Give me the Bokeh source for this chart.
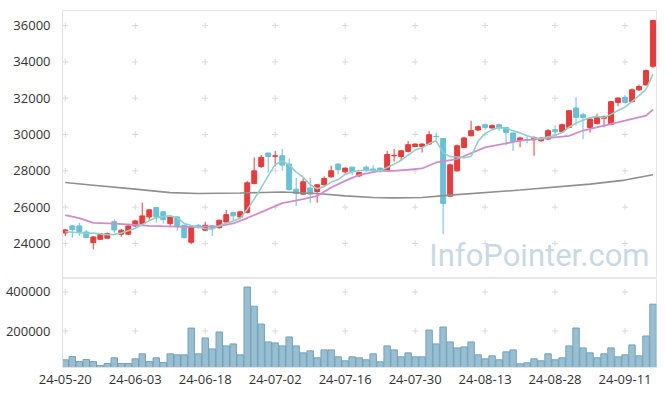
from bokeh.plotting import figure
from bokeh.layouts import column
from bokeh.models import Range1d, FixedTicker, PrintfTickFormatter, ColumnDataSource, Label
from bokeh.embed import file_html
from bokeh.resources import INLINE

dates = ["24-05-20","24-05-21","24-05-22","24-05-23","24-05-24","24-05-27","24-05-28","24-05-29","24-05-30","24-05-31",
         "24-06-03","24-06-04","24-06-05","24-06-07","24-06-10","24-06-11","24-06-12","24-06-13","24-06-14","24-06-17",
         "24-06-18","24-06-19","24-06-20","24-06-21","24-06-24","24-06-25","24-06-26","24-06-27","24-06-28","24-07-01",
         "24-07-02","24-07-03","24-07-04","24-07-05","24-07-08","24-07-09","24-07-10","24-07-11","24-07-12","24-07-15",
         "24-07-16","24-07-17","24-07-18","24-07-19","24-07-22","24-07-23","24-07-24","24-07-25","24-07-26","24-07-29",
         "24-07-30","24-07-31","24-08-01","24-08-02","24-08-05","24-08-06","24-08-07","24-08-08","24-08-09","24-08-12",
         "24-08-13","24-08-14","24-08-16","24-08-19","24-08-20","24-08-21","24-08-22","24-08-23","24-08-26","24-08-27",
         "24-08-28","24-08-29","24-08-30","24-09-02","24-09-03","24-09-04","24-09-05","24-09-06","24-09-09","24-09-10",
         "24-09-11","24-09-12","24-09-13","24-09-19","24-09-20"]

open_ = [24580,24966,24966,24635,24045,24230,24290,25200,24510,24510,
         24966,25090,25460,25976,25740,25090,25460,25000,24066,25000,
         24730,24966,24870,25180,25700,25460,25700,27300,28240,28980,
         28800,28830,28370,26990,26715,27050,26860,27230,27670,28370,
         27945,28200,27725,28200,28100,28150,28000,28830,28790,29070,
         29345,29345,29475,29900,29785,26600,28000,29290,29930,30250,
         30540,30360,30540,30390,30080,29660,29710,29710,29660,29750,
         30265,30150,30390,31460,31090,30390,30610,30890,30560,31770,
         32050,31810,32460,32730,33760]
close = [24745,24760,24650,24320,24360,24540,24540,24745,24730,24966,
         25240,25518,25850,25460,25310,25460,24966,24320,24910,24870,
         25000,24820,25280,25590,25520,25740,27340,28000,28740,28790,
         28830,28320,26970,26750,27395,26715,27230,27580,28000,28060,
         28150,27960,27910,28060,28000,28040,28900,28850,29100,29440,
         29475,29475,29990,29880,26200,28330,29380,29810,30210,30430,
         30390,30490,30390,30115,29620,29810,29700,29840,29810,30210,
         30150,30540,31310,30945,30945,30850,30945,30980,31810,32010,
         31770,32460,32640,33520,36280]
high = [24800,25020,25150,24745,24400,24560,24600,25335,24800,25020,
        25300,26250,25900,26000,25760,25550,25500,25050,24950,25080,
        25200,25000,25300,25850,25760,25780,27450,28736,28880,29000,
        29100,29200,28680,27600,27600,27600,27280,27700,28280,28400,
        28180,28230,27960,28300,28300,28170,29100,29200,29150,29650,
        29500,29500,30180,30100,29800,28400,29450,29870,30760,30500,
        30600,30560,30600,30420,30100,29880,29950,29900,29850,30300,
        30500,30600,31350,32050,31200,30900,31150,31050,31850,32050,
        32150,32550,32750,33580,36300]
low = [24414,24320,24414,24300,23680,24200,24250,24600,24370,24480,
       24900,25020,25300,25150,25100,24950,24700,24280,23960,24820,
       24680,24414,24820,25150,25250,25350,25650,27250,28150,27910,
       28240,28000,26900,26070,26700,26220,26250,27200,27620,27800,
       27850,27760,27650,27950,27880,27900,27950,28515,28560,29000,
       29300,29010,29440,29700,24507,26550,27950,29250,29900,30180,
       30250,30320,30200,29400,29100,29300,29500,28830,29600,29700,
       29900,30100,30350,30500,29750,30100,30550,30400,30500,31550,
       31700,31750,32400,32700,33650]
volume = [52400,69200,43800,54000,43800,23400,33600,62600,33600,33600,
          57500,83000,43800,62600,38700,83000,77900,77900,215000,83000,
          164400,108400,194900,123700,133800,77900,425400,327200,235600,144000,
          138900,123700,169500,123700,88000,98200,62600,103300,103300,67700,
          47300,67700,62600,52400,83000,42200,123700,103300,67700,88000,
          67700,67700,205100,133800,220400,144000,113500,118600,144000,77900,
          57500,72800,52400,93100,103300,32100,37200,57500,47300,83000,
          52400,62600,123700,215300,113500,88000,62600,83000,113500,67700,
          77900,128800,72800,174600,337400]
ma5 = [24650,24620,24590,24560,24570,24530,24480,24500,24580,24700,
       24840,25040,25260,25410,25480,25520,25410,25100,24990,24910,
       24810,24780,24980,25110,25240,25390,25890,26440,27070,27720,
       28340,28540,28330,27930,27650,27230,27010,27130,27380,27520,
       27800,27950,28020,28030,28020,27990,28180,28370,28580,28870,
       29150,29270,29500,29650,29000,28780,28760,28720,28790,29630,
       30050,30270,30380,30360,30200,30090,29930,29820,29760,29870,
       29940,30110,30400,30630,30780,30920,31000,30930,31110,31320,
       31510,31810,32140,32480,33330]
ma20_idx = [0, 2, 4, 7, 10, 12, 17, 19, 22, 24, 26, 29, 31, 34, 36, 38, 40, 42, 45, 47, 49, 51, 53, 56, 60, 65, 70, 72, 74, 77, 80, 83, 84]
ma20_val = [25560, 25400, 25130, 25090, 25020, 24970, 24910, 24910, 24950, 25100, 25400, 25890, 26220, 26440, 26620, 27080, 27450, 27780, 28000, 28000, 28060, 28130, 28460, 28650, 29290, 29660, 29840, 29930, 30220, 30490, 30760, 31040, 31370]
ma60_idx = [0, 4, 10, 15, 19, 25, 31, 36, 40, 44, 47, 51, 55, 65, 75, 80, 84]
ma60_val = [27360, 27210, 26990, 26800, 26750, 26780, 26830, 26750, 26620, 26530, 26510, 26530, 26660, 26940, 27270, 27490, 27780]

price_ticks = [24000, 26000, 28000, 30000, 32000, 34000, 36000]
vol_ticks = [200000, 400000]
x_ticks = [0, 10, 20, 30, 40, 50, 60, 70, 80]

UP = "#ec3939"
DOWN = "#67c1d8"
FONT = "Open Sans"

idx = list(range(len(close)))
colors = [UP if c >= o else DOWN for o, c in zip(open_, close)]
src = ColumnDataSource(dict(
    x=idx, o=open_, c=close, h=high, l=low,
    top=[max(o, c) for o, c in zip(open_, close)],
    bot=[min(o, c) for o, c in zip(open_, close)],
    col=colors, vol=volume, ma5=ma5))

xr = Range1d(-0.4, 84.5)

def style_yaxis(ax):
    ax.axis_line_color = "#e2e2e2"
    ax.major_tick_line_color = None
    ax.minor_tick_line_color = None
    ax.major_label_text_font = FONT
    ax.major_label_text_font_size = "13px"
    ax.major_label_text_color = "#333333"
    ax.major_label_standoff = 6
    ax.formatter = PrintfTickFormatter(format="%d")

p = figure(width=664, height=278, x_range=xr, y_range=Range1d(22070, 36830),
           output_backend="svg", toolbar_location=None, x_axis_location=None,
           min_border_left=62, min_border_right=8, min_border_top=10, min_border_bottom=0)
p.grid.visible = False
p.outline_line_color = "#e6e6e6"
p.background_fill_color = "white"
style_yaxis(p.yaxis[0])
p.yaxis.ticker = FixedTicker(ticks=price_ticks)

gx = [x for x in x_ticks for _ in price_ticks]
gy = [y for _ in x_ticks for y in price_ticks]
p.scatter(gx, gy, marker="cross", size=6, line_color="#dadada", line_width=1)

p.add_layout(Label(x=83.5, y=23330, text="InfoPointer.com", text_align="right",
                   text_baseline="middle", text_font="Roboto", text_font_size="31px",
                   text_color="#c8d9e4"))

p.segment(x0="x", y0="h", x1="x", y1="l", color="col", line_width=1, source=src)
p.vbar(x="x", top="top", bottom="bot", width=0.7, fill_color="col", line_color="col", line_width=1, source=src)

p.line(ma60_idx, ma60_val, line_color="#8f8f8f", line_width=1.6)
p.line(ma20_idx, ma20_val, line_color="#cf8dcd", line_width=1.8)
p.line("x", "ma5", source=src, line_color="#8fd0c7", line_width=1.6)

v = figure(width=664, height=108, x_range=xr, y_range=Range1d(13000, 469000),
           output_backend="svg", toolbar_location=None,
           min_border_left=62, min_border_right=8, min_border_top=0, min_border_bottom=0)
v.grid.visible = False
v.outline_line_color = "#e6e6e6"
style_yaxis(v.yaxis[0])
v.yaxis.ticker = FixedTicker(ticks=vol_ticks)
xa = v.xaxis[0]
xa.ticker = FixedTicker(ticks=x_ticks)
xa.major_label_overrides = {i: dates[i] for i in x_ticks}
xa.axis_line_color = "#e2e2e2"
xa.major_tick_line_color = None
xa.minor_tick_line_color = None
xa.major_label_text_font = FONT
xa.major_label_text_font_size = "13px"
xa.major_label_text_color = "#333333"
xa.major_label_standoff = 1

vx = [x for x in x_ticks for _ in vol_ticks]
vy = [y for _ in x_ticks for y in vol_ticks]
v.scatter(vx, vy, marker="cross", size=6, line_color="#dadada", line_width=1)
v.vbar(x="x", top="vol", bottom=0, width=0.92, fill_color="#98bfd1", line_color="#74a3ba",
       line_width=1, source=src)

layout = column(p, v, spacing=0)
open("out.html", "w").write(file_html(layout, INLINE))
